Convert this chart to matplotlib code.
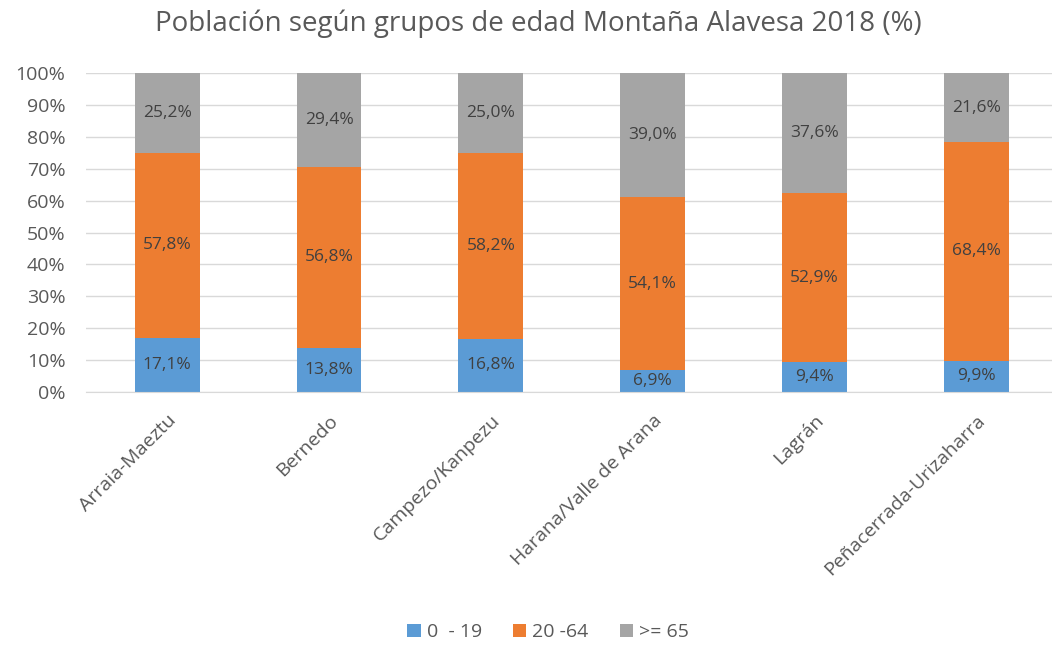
import matplotlib.pyplot as plt
import numpy as np

plt.rcParams["font.family"] = ["Open Sans", "DejaVu Sans"]

municipios = ["Arraia-Maeztu", "Bernedo", "Campezo/Kanpezu",
              "Harana/Valle de Arana", "Lagrán", "Peñacerrada-Urizaharra"]
edad_0_19 = [17.1, 13.8, 16.8, 6.9, 9.4, 9.9]
edad_20_64 = [57.8, 56.8, 58.2, 54.1, 52.9, 68.4]
edad_65 = [25.2, 29.4, 25.0, 39.0, 37.6, 21.6]
grupos = ["0  - 19", "20 -64", ">= 65"]
colores = ["#5B9BD5", "#ED7D31", "#A5A5A5"]

fig = plt.figure(figsize=(10.52, 6.46), dpi=100)
ax = fig.add_axes([0.082, 0.393, 0.923, 0.494])

x = np.arange(len(municipios))
bottom = np.zeros(len(municipios))
for vals, lab, col in zip([edad_0_19, edad_20_64, edad_65], grupos, colores):
    vals = np.array(vals)
    ax.bar(x, vals, 0.4, bottom=bottom, color=col, label=lab, zorder=2)
    for xi, b, v in zip(x, bottom, vals):
        ax.text(xi, b + v / 2, f"{v:.1f}%".replace(".", ","), ha="center",
                va="center", fontsize=12.5, color="#404040", zorder=3)
    bottom += vals

ax.set_ylim(0, 100)
ax.set_xlim(-0.5, len(municipios) - 0.5)
ax.set_yticks(np.arange(0, 101, 10))
ax.set_yticklabels([f"{t}%" for t in range(0, 101, 10)], fontsize=14, color="#595959")
ax.set_xticks(x)
ax.set_xticklabels(municipios, rotation=45, ha="right", rotation_mode="anchor",
                   fontsize=14, color="#595959")
ax.tick_params(length=0)
ax.tick_params(axis="y", pad=15)
ax.tick_params(axis="x", pad=14)
ax.yaxis.grid(True, color="#D9D9D9", linewidth=1, zorder=0)
for s in ["top", "right", "left"]:
    ax.spines[s].set_visible(False)
ax.spines["bottom"].set_color("#D9D9D9")

fig.suptitle("Población según grupos de edad Montaña Alavesa 2018 (%)",
             fontsize=20, color="#595959", x=0.512, y=0.985)
fig.legend(loc="center", bbox_to_anchor=(0.521, 0.021), ncol=3, frameon=False,
           fontsize=14, handlelength=0.7, handleheight=0.7, handletextpad=0.3,
           columnspacing=1.6, labelcolor="#595959")

fig.savefig("out.png", dpi=100)
